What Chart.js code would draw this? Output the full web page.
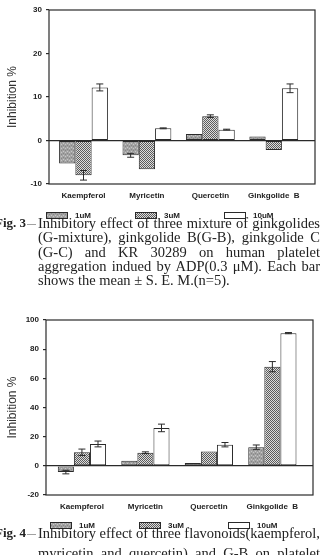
<!DOCTYPE html>
<html>
<head>
<meta charset="utf-8">
<script src="https://cdn.jsdelivr.net/npm/chart.js@4.4.1/dist/chart.umd.min.js"></script>
<style>
  body { margin: 0; width: 320px; height: 555px; overflow: hidden; background: #fff; position: relative; }
  canvas { position: absolute; left: 0; }
  #fig3 { top: 0; }
  #fig4 { top: 300px; }
  .cap {
    position: absolute; left: 0; width: 320px;
    font-family: "Liberation Serif", "DejaVu Serif", serif; font-size: 14.5px; line-height: 14.3px;
    color: #222;
  }
  .cap div { padding-left: 38px; white-space: nowrap; text-align: justify; text-align-last: justify; }
  .cap div.last { text-align-last: left; }
  .cap .lead { position: absolute; left: -5px; top: 0; font-weight: bold; font-size: 13px; }
  .cap .dash { position: absolute; left: 27px; top: 0; font-size: 9px; }
  .cap .row { position: relative; }
</style>
</head>
<body>
<canvas id="fig3" width="320" height="224"></canvas>
<canvas id="fig4" width="320" height="235"></canvas>

<div class="cap" style="top:216px;">
  <div class="row"><span class="lead">Fig. 3</span><span class="dash">—</span>Inhibitory effect of three mixture of ginkgolides</div>
  <div>(G-mixture), ginkgolide B(G-B), ginkgolide C</div>
  <div>(G-C) and KR 30289 on human platelet</div>
  <div>aggregation indued by ADP(0.3 μM). Each bar</div>
  <div class="last">shows the mean ± S. E. M.(n=5).</div>
</div>

<div class="cap" style="top:526px;">
  <div class="row"><span class="lead">Fig. 4</span><span class="dash">—</span>Inhibitory effect of three flavonoids(kaempferol,</div>
  <div style="margin-top:6px;">myricetin and quercetin) and G-B on platelet</div>
</div>

<script>
const categories = ['Kaempferol', 'Myricetin', 'Quercetin', 'Ginkgolide  B'];
const doses = ['1uM', '3uM', '10uM'];

// Fig. 3 values (inhibition %), and S.E.M.
const fig3Ticks = [-10, 0, 10, 20, 30];
const fig3Low = [-5.3, -3.4, 1.5, 0.9];
const fig3LowErr = [0, 0.45, 0, 0];
const fig3Mid = [-8.0, -6.6, 5.6, -2.2];
const fig3MidErr = [1.1, 0, 0.3, 0];
const fig3High = [12.2, 2.8, 2.5, 12.0];
const fig3HighErr = [0.8, 0.1, 0.1, 1.0];

// Fig. 4 values
const fig4Ticks = [-20, 0, 20, 40, 60, 80, 100];
const fig4Low = [-4.3, 3.5, 2.0, 12.8];
const fig4LowErr = [1.2, 0, 0, 1.5];
const fig4Mid = [9.3, 9.0, 9.8, 68.0];
const fig4MidErr = [2.2, 0.6, 0, 3.5];
const fig4High = [15.0, 26.0, 14.5, 91.0];
const fig4HighErr = [2.0, 2.6, 1.5, 0.4];

const ink = '#2a2a2a';

// fill textures like the printed bars
function makePattern(rows, colors) {
    const c = document.createElement('canvas');
    c.width = rows[0].length;
    c.height = rows.length;
    const g = c.getContext('2d');
    rows.forEach((row, y) => {
        [...row].forEach((ch, x) => {
            g.fillStyle = colors[ch];
            g.fillRect(x, y, 1, 1);
        });
    });
    return g.createPattern(c, 'repeat');
}

const greyFill = makePattern(['ABAA', 'AAAC', 'ACAA', 'AAAB'], { A: '#a2a2a2', B: '#c6c6c6', C: '#868686' });
const dotFill = makePattern(['DL', 'LD'], { D: '#5c5c5c', L: '#dcdcdc' });
const fills = [greyFill, dotFill, '#ffffff'];

const frame = {
    id: 'frame',
    afterDatasetsDraw(chart) {
        const { ctx, chartArea: a } = chart;
        ctx.save();
        ctx.strokeStyle = ink;
        ctx.lineWidth = 1.2;
        ctx.strokeRect(a.left, a.top, a.right - a.left, a.bottom - a.top);
        ctx.restore();
    }
};

const errorBars = {
    id: 'errorBars',
    afterDatasetsDraw(chart) {
        const ctx = chart.ctx;
        const yScale = chart.scales.y;
        ctx.save();
        ctx.strokeStyle = ink;
        ctx.lineWidth = 1;
        chart.data.datasets.forEach((ds, i) => {
            chart.getDatasetMeta(i).data.forEach((bar, j) => {
                const e = ds.errors[j];
                if (!e) return;
                const v = ds.data[j].y;
                const hi = yScale.getPixelForValue(v + e);
                const lo = yScale.getPixelForValue(v - e);
                ctx.beginPath();
                ctx.moveTo(bar.x, hi); ctx.lineTo(bar.x, lo);
                ctx.moveTo(bar.x - 3.5, hi); ctx.lineTo(bar.x + 3.5, hi);
                ctx.moveTo(bar.x - 3.5, lo); ctx.lineTo(bar.x + 3.5, lo);
                ctx.stroke();
            });
        });
        ctx.restore();
    }
};

const legendRow = {
    id: 'legendRow',
    afterDraw(chart, args, opts) {
        const ctx = chart.ctx;
        const y = chart.chartArea.bottom + opts.offset;
        ctx.save();
        ctx.font = 'bold 8px "Liberation Sans", Arial, sans-serif';
        ctx.textBaseline = 'middle';
        chart.data.datasets.forEach((ds, i) => {
            const x = opts.start + i * opts.step;
            ctx.fillStyle = ds.backgroundColor;
            ctx.fillRect(x, y - 3, 21, 6);
            ctx.strokeStyle = ink;
            ctx.lineWidth = 1;
            ctx.strokeRect(x + 0.5, y - 2.5, 21, 6);
            ctx.fillStyle = '#222';
            ctx.fillText(ds.label, x + 29, y + 0.5);
        });
        ctx.restore();
    }
};

function buildChart(id, series, errors, ticks, opts) {
    const datasets = series.map((vals, i) => ({
        label: doses[i],
        data: vals.map((v, k) => ({ x: k + 1, y: v })),
        errors: errors[i],
        backgroundColor: fills[i],
        borderColor: ink,
        borderWidth: 1,
        borderSkipped: false,
        categoryPercentage: opts.groupShare,
        barPercentage: 1.0
    }));

    return new Chart(document.getElementById(id), {
        type: 'bar',
        data: { datasets },
        plugins: [frame, errorBars, legendRow],
        options: {
            responsive: false,
            animation: false,
            devicePixelRatio: 1,
            layout: { padding: { left: 0, right: opts.right, top: opts.top, bottom: 0 } },
            plugins: {
                legend: { display: false },
                tooltip: { enabled: false },
                legendRow: { start: opts.legendStart, step: 89, offset: opts.legendOffset }
            },
            scales: {
                x: {
                    type: 'linear',
                    offset: false,
                    min: opts.xMin,
                    max: opts.xMax,
                    afterBuildTicks: s => { s.ticks = categories.map((c, k) => ({ value: k + 1 })); },
                    afterFit: s => { s.height = 40; },
                    grid: { display: false, drawTicks: false },
                    border: { display: false },
                    ticks: {
                        autoSkip: false,
                        maxRotation: 0,
                        padding: 7,
                        color: '#222',
                        font: { family: '"Liberation Sans", Arial, sans-serif', size: 8, weight: 'bold' },
                        callback: v => categories[v - 1]
                    }
                },
                y: {
                    min: ticks[0],
                    max: ticks[ticks.length - 1],
                    afterBuildTicks: s => { s.ticks = ticks.map(v => ({ value: v })); },
                    afterFit: s => { s.width = opts.axisX; },
                    border: { display: false },
                    grid: {
                        drawOnChartArea: true,
                        drawTicks: true,
                        tickLength: 3,
                        lineWidth: 1.2,
                        tickColor: ink,
                        color: c => (c.tick && c.tick.value === 0) ? ink : 'rgba(0,0,0,0)'
                    },
                    ticks: {
                        padding: 4,
                        color: '#222',
                        font: { family: '"Liberation Sans", Arial, sans-serif', size: 8, weight: 'bold' }
                    },
                    title: {
                        display: true,
                        text: 'Inhibition %',
                        color: '#333',
                        padding: { top: 5, bottom: 0 },
                        font: { family: '"Liberation Sans", Arial, sans-serif', size: 12 }
                    }
                }
            }
        }
    });
}

buildChart('fig3', [fig3Low, fig3Mid, fig3High], [fig3LowErr, fig3MidErr, fig3HighErr], fig3Ticks, {
    xMin: 0.456, xMax: 4.65, groupShare: 0.77, right: 5, top: 10, axisX: 49,
    legendStart: 46, legendOffset: 31
});

buildChart('fig4', [fig4Low, fig4Mid, fig4High], [fig4LowErr, fig4MidErr, fig4HighErr], fig4Ticks, {
    xMin: 0.434, xMax: 4.64, groupShare: 0.76, right: 7, top: 20, axisX: 46,
    legendStart: 50, legendOffset: 30
});
</script>
</body>
</html>
